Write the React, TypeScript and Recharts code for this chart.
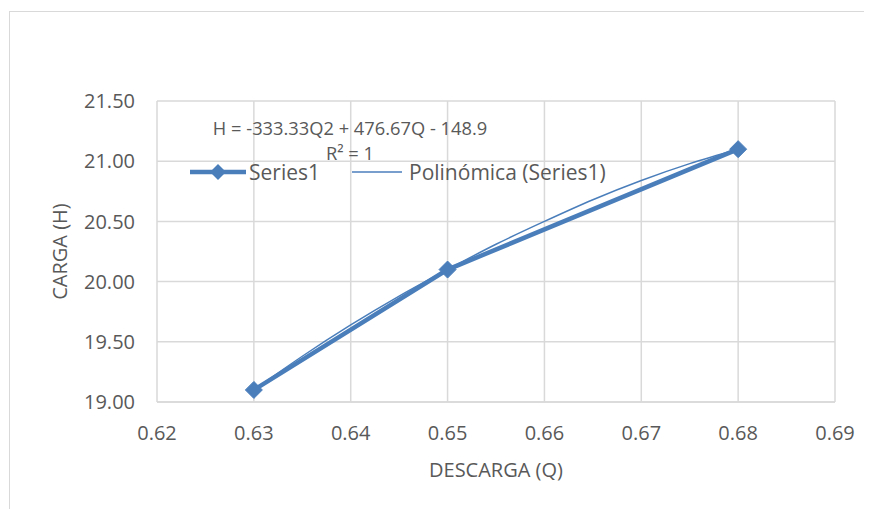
import { CartesianGrid, Label, Line, LineChart, XAxis, YAxis } from "recharts"

const descarga = [0.63, 0.65, 0.68]
const carga = [19.1, 20.1, 21.1]

// trendline
const trendQ = [0.63, 0.635, 0.64, 0.645, 0.65, 0.655, 0.66, 0.665, 0.67, 0.675, 0.68]
const trendH = [19.1, 19.38, 19.64, 19.88, 20.1, 20.31, 20.5, 20.68, 20.84, 20.98, 21.1]

const xTicks = [0.62, 0.63, 0.64, 0.65, 0.66, 0.67, 0.68, 0.69]
const yTicks = [19.0, 19.5, 20.0, 20.5, 21.0, 21.5]

const seriesData = descarga.map((q, i) => ({ q, h: carga[i] }))
const trendData = trendQ.map((q, i) => ({ q, t: trendH[i] }))

const BLUE = "#4a7ebb"
const GRID = "#d9d9d9"
const TEXT = "#595959"
const FONT = "'Open Sans', sans-serif"

const Diamond = (props: any) => {
  const { cx, cy } = props
  if (cx == null || cy == null) return null
  const r = 8.5
  return (
    <path
      d={`M${cx},${cy - r}L${cx + r},${cy}L${cx},${cy + r}L${cx - r},${cy}Z`}
      fill={BLUE}
      stroke={BLUE}
      strokeWidth={1}
    />
  )
}

export default function App() {
  const tickStyle = { fill: TEXT, fontSize: 20, fontFamily: FONT }
  return (
    <div style={{ position: "relative", width: 864, height: 501, overflow: "hidden", fontFamily: FONT }}>
      <div
        style={{
          position: "absolute",
          left: 1,
          top: 3,
          width: 900,
          height: 600,
          borderLeft: `1px solid ${GRID}`,
          borderTop: `1px solid ${GRID}`,
        }}
      />
      <LineChart width={864} height={501} margin={{ top: 93, right: 37, left: 0, bottom: 0 }}>
        <CartesianGrid stroke={GRID} strokeWidth={1.5} />
        <XAxis
          type="number"
          dataKey="q"
          domain={[0.62, 0.69]}
          ticks={xTicks}
          tickFormatter={(v: number) => v.toFixed(2)}
          axisLine={{ stroke: GRID, strokeWidth: 1.5 }}
          tickLine={false}
          tickSize={0}
          tickMargin={24}
          tick={tickStyle}
          height={107}
          allowDuplicatedCategory={false}
        >
          <Label
            content={({ viewBox }: any) => (
              <text
                x={viewBox.x + viewBox.width / 2}
                y={461}
                textAnchor="middle"
                dominantBaseline="central"
                fill={TEXT}
                fontSize={20}
                fontFamily={FONT}
              >
                DESCARGA (Q)
              </text>
            )}
          />
        </XAxis>
        <YAxis
          type="number"
          domain={[19, 21.5]}
          ticks={yTicks}
          tickFormatter={(v: number) => v.toFixed(2)}
          axisLine={false}
          tickLine={false}
          tickSize={0}
          tickMargin={22}
          tick={tickStyle}
          width={149}
        >
          <Label
            content={({ viewBox }: any) => {
              const cx = 51
              const cy = viewBox.y + viewBox.height / 2
              return (
                <text
                  x={cx}
                  y={cy}
                  transform={`rotate(-90 ${cx} ${cy})`}
                  textAnchor="middle"
                  dominantBaseline="central"
                  fill={TEXT}
                  fontSize={20}
                  fontFamily={FONT}
                >
                  CARGA (H)
                </text>
              )
            }}
          />
        </YAxis>
        <Line
          data={seriesData}
          dataKey="h"
          type="linear"
          stroke={BLUE}
          strokeWidth={4.5}
          dot={<Diamond />}
          activeDot={false}
          isAnimationActive={false}
        />
        <Line
          data={trendData}
          dataKey="t"
          type="monotone"
          stroke={BLUE}
          strokeWidth={1.5}
          dot={false}
          activeDot={false}
          isAnimationActive={false}
        />
      </LineChart>

      <div
        style={{
          position: "absolute",
          left: 342,
          top: 131.5,
          transform: "translate(-50%, -50%)",
          whiteSpace: "nowrap",
          color: TEXT,
          fontSize: 18.3,
          textAlign: "center",
          lineHeight: "25px",
        }}
      >
        <div>H = -333.33Q2 + 476.67Q - 148.9</div>
        <div>R² = 1</div>
      </div>

      <div
        style={{
          position: "absolute",
          left: 182,
          top: 152,
          height: 24,
          display: "flex",
          alignItems: "center",
          color: TEXT,
          fontSize: 21,
          whiteSpace: "nowrap",
        }}
      >
        <svg width={56} height={20}>
          <line x1={0} y1={10} x2={56} y2={10} stroke={BLUE} strokeWidth={4.5} />
          <path d="M28,2L36,10L28,18L20,10Z" fill={BLUE} />
        </svg>
        <span style={{ marginLeft: 3 }}>Series1</span>
        <svg width={50} height={20} style={{ marginLeft: 32 }}>
          <line x1={0} y1={10} x2={50} y2={10} stroke={BLUE} strokeWidth={1.5} />
        </svg>
        <span style={{ marginLeft: 7 }}>Polinómica (Series1)</span>
      </div>
    </div>
  )
}
